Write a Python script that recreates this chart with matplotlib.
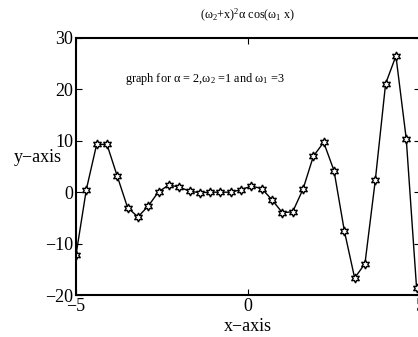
import matplotlib
matplotlib.use("Agg")
import matplotlib.pyplot as plt

# values, x step 0.3 from -5
x_vals = [-5.0, -4.7, -4.4, -4.1, -3.8, -3.5, -3.2, -2.9, -2.6, -2.3, -2.0, -1.7,
          -1.4, -1.1, -0.8, -0.5, -0.2, 0.1, 0.4, 0.7, 1.0, 1.3, 1.6, 1.9, 2.2,
          2.5, 2.8, 3.1, 3.4, 3.7, 4.0, 4.3, 4.6, 4.9]
y_vals = [-12.2, 0.5, 9.3, 9.3, 3.1, -3.0, -4.8, -2.7, 0.1, 1.4, 1.0, 0.2,
          -0.1, 0.0, 0.0, 0.0, 0.5, 1.2, 0.7, -1.5, -4.0, -3.8, 0.6, 7.0, 9.7,
          4.2, -7.5, -16.7, -13.9, 2.3, 21.1, 26.5, 10.4, -18.6]
x_ticks = [-5, 0, 5]
y_ticks = [-20, -10, 0, 10, 20, 30]

plt.rcParams["font.family"] = ["Liberation Serif", "DejaVu Serif"]
plt.rcParams["mathtext.fontset"] = "custom"
plt.rcParams["mathtext.rm"] = "Liberation Serif"
plt.rcParams["mathtext.it"] = "Liberation Serif"

fig = plt.figure(figsize=(4.18, 3.37), dpi=100)
ax = fig.add_axes([76 / 418, 42 / 337, 344 / 418, 257 / 337])

ax.plot(x_vals, y_vals, color="black", linewidth=1.0,
        marker=(6, 1, 0), markersize=6.5, markerfacecolor="white",
        markeredgecolor="black", markeredgewidth=1.0)

ax.set_xlim(-5, 5)
ax.set_ylim(-20, 30)
ax.set_xticks(x_ticks)
ax.set_yticks(y_ticks)
ax.tick_params(direction="in", top=True, right=True, length=4, width=0.8,
               labelsize=13, pad=2)
ax.set_xticklabels(["\u22125", "0", "5"])
ax.set_yticklabels(["\u221220", "\u221210", "0", "10", "20", "30"])
for s in ax.spines.values():
    s.set_linewidth(1.5)

ax.set_xlabel("x\u2212axis", fontsize=13, labelpad=2)
ax.set_ylabel("y\u2212axis", fontsize=13, rotation=0, labelpad=0)
ax.yaxis.set_label_coords(-0.11, 0.5)

ax.set_title("(\u03c9$_2$+x)$^2$\u03b1 cos(\u03c9$_1$ x)", fontsize=8.7, pad=14)
ax.text(-3.58, 21.4, "graph for \u03b1 = 2,\u03c9$_2$ =1 and \u03c9$_1$ =3", fontsize=8.8)

fig.savefig("out.png", dpi=100)
